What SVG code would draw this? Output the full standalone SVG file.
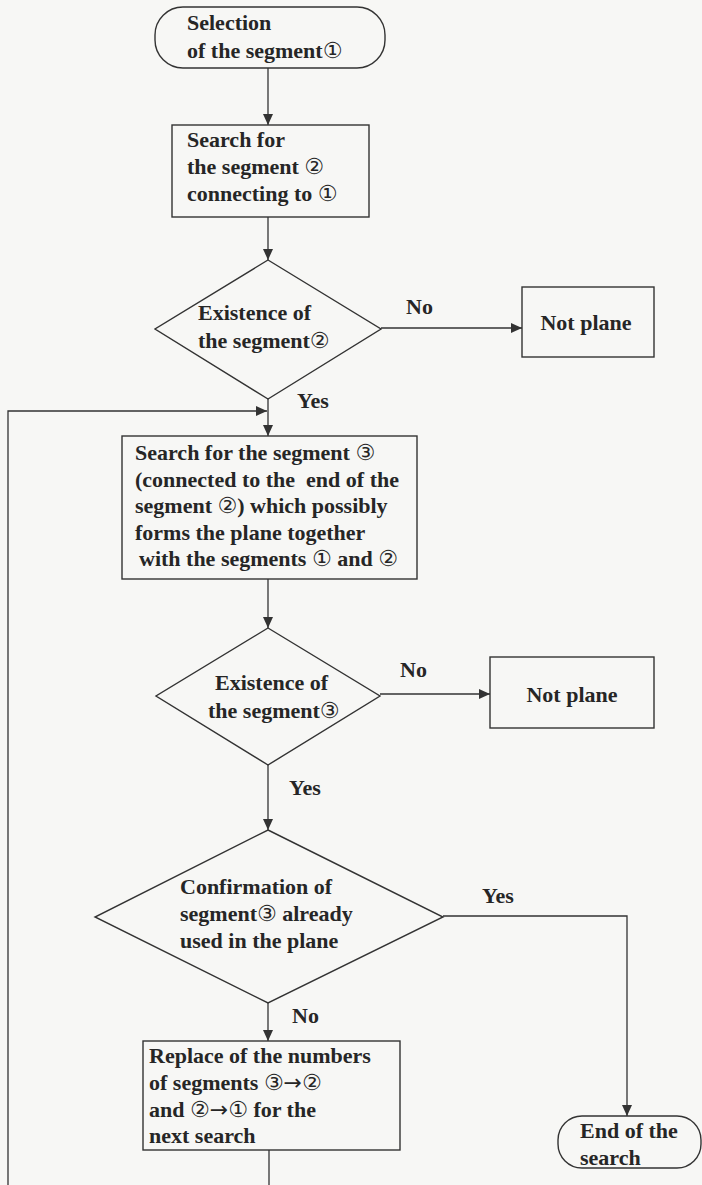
<svg xmlns="http://www.w3.org/2000/svg" width="702" height="1185" viewBox="0 0 702 1185">
<style>
.shape{fill:none;stroke:#333;stroke-width:1.4}
.conn{fill:none;stroke:#333;stroke-width:1.3}
text{font-family:"Liberation Serif","Noto Sans CJK JP",serif;font-size:22px;font-weight:bold;fill:#262626}
.c{font-family:"DejaVu Sans","Noto Sans CJK JP",sans-serif;font-weight:normal}
.mid{text-anchor:middle}
</style>
<defs>
<marker id="arr" markerUnits="userSpaceOnUse" markerWidth="11" markerHeight="10" refX="11" refY="5" orient="auto">
<path d="M0,0 L11,5 L0,10 Z" fill="#333"/>
</marker>
</defs>
<rect x="0" y="0" width="702" height="1185" fill="#f7f7f5"/>
<g id="connectors">
<path class="conn" d="M268,68 V125" marker-end="url(#arr)"/>
<path class="conn" d="M268,217 V260" marker-end="url(#arr)"/>
<path class="conn" d="M381,328 H522" marker-end="url(#arr)"/>
<path class="conn" d="M268,399 V436" marker-end="url(#arr)"/>
<path class="conn" d="M8,1185 V411 H267" marker-end="url(#arr)"/>
<path class="conn" d="M268,579 V628" marker-end="url(#arr)"/>
<path class="conn" d="M380,694 H490" marker-end="url(#arr)"/>
<path class="conn" d="M268,765 V830" marker-end="url(#arr)"/>
<path class="conn" d="M443,916 H627 V1116" marker-end="url(#arr)"/>
<path class="conn" d="M268,1003 V1041" marker-end="url(#arr)"/>
<path class="conn" d="M269,1150 V1185"/>
<text x="406" y="314">No</text>
<text x="297" y="408">Yes</text>
<text x="400" y="677">No</text>
<text x="289" y="795">Yes</text>
<text x="482" y="903">Yes</text>
<text x="292" y="1023">No</text>
</g>
<g id="start">
<rect class="shape" x="155" y="7" width="230" height="61" rx="28" ry="28"/>
<text x="187" y="30">Selection</text>
<text x="187" y="58">of the segment<tspan class="c">①</tspan></text>
</g>
<g id="search2">
<rect class="shape" x="172" y="125" width="197" height="92"/>
<text x="187" y="147">Search for</text>
<text x="187" y="174">the segment <tspan class="c">②</tspan></text>
<text x="187" y="201">connecting to <tspan class="c">①</tspan></text>
</g>
<g id="exist2">
<polygon class="shape" points="268,260 381,329 268,399 155,329"/>
<text x="198" y="320">Existence of</text>
<text x="198" y="348">the segment<tspan class="c">②</tspan></text>
</g>
<g id="notplane1">
<rect class="shape" x="522" y="287" width="132" height="70"/>
<text class="mid" x="586" y="330">Not plane</text>
</g>
<g id="search3">
<rect class="shape" x="122" y="436" width="295" height="143"/>
<text x="135" y="460">Search for the segment <tspan class="c">③</tspan></text>
<text x="135" y="486.5" xml:space="preserve">(connected to the  end of the</text>
<text x="135" y="513">segment <tspan class="c">②</tspan>) which possibly</text>
<text x="135" y="539.5">forms the plane together</text>
<text x="139" y="566">with the segments <tspan class="c">①</tspan> and <tspan class="c">②</tspan></text>
</g>
<g id="exist3">
<polygon class="shape" points="268,628 380,696 268,765 156,696"/>
<text x="215" y="690">Existence of</text>
<text x="208" y="718">the segment<tspan class="c">③</tspan></text>
</g>
<g id="notplane2">
<rect class="shape" x="490" y="657" width="164" height="71"/>
<text class="mid" x="572" y="702">Not plane</text>
</g>
<g id="confirm">
<polygon class="shape" points="268,830 443,917 268,1003 95,917"/>
<text x="180" y="894">Confirmation of</text>
<text x="180" y="921">segment<tspan class="c">③</tspan> already</text>
<text x="180" y="948">used in the plane</text>
</g>
<g id="replace">
<rect class="shape" x="143" y="1041" width="257" height="109"/>
<text x="149" y="1063">Replace of the numbers</text>
<text x="149" y="1090">of segments <tspan class="c">③→②</tspan></text>
<text x="149" y="1117">and <tspan class="c">②→①</tspan> for the</text>
<text x="149" y="1143">next search</text>
</g>
<g id="end">
<rect class="shape" x="558" y="1116" width="143" height="52" rx="24" ry="24"/>
<text x="580" y="1138">End of the</text>
<text x="580" y="1165">search</text>
</g>
</svg>
